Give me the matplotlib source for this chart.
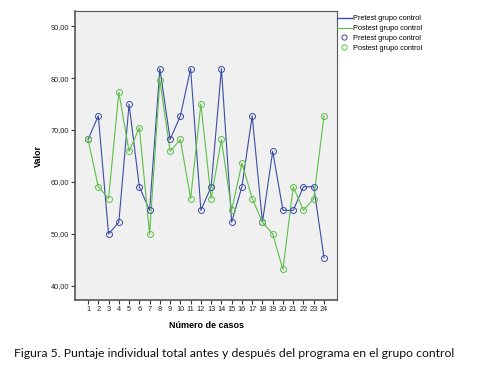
import matplotlib
matplotlib.use("Agg")
import matplotlib.pyplot as plt
from matplotlib.lines import Line2D
from matplotlib.ticker import FuncFormatter

# numero de casos y puntajes
casos = list(range(1, 25))
pretest = [68.18, 72.73, 50.00, 52.27, 75.00, 59.09, 54.55, 81.82, 68.18, 72.73, 81.82, 54.55,
           59.09, 81.82, 52.27, 59.09, 72.73, 52.27, 65.91, 54.55, 54.55, 59.09, 59.09, 45.45]
postest = [68.18, 59.09, 56.82, 77.27, 65.91, 70.45, 50.00, 79.55, 65.91, 68.18, 56.82, 75.00,
           56.82, 68.18, 54.55, 63.64, 56.82, 52.27, 50.00, 43.18, 59.09, 54.55, 56.82, 72.73]
y_ticks = [40, 50, 60, 70, 80, 90]
legend_labels = ["Pretest grupo control", "Postest grupo control",
                 "Pretest grupo control", "Postest grupo control"]
caption = "Figura 5. Puntaje individual total antes y después del programa en el grupo control"

blue = "#3b4da3"
green = "#5cbf48"

plt.rcParams['font.family'] = ['Liberation Sans', 'DejaVu Sans']

fig = plt.figure(figsize=(4.79, 3.73), dpi=100)
ax = fig.add_axes([0.1566, 0.1957, 0.547, 0.7748])
ax.set_facecolor("#f0f0f0")

ax.plot(casos, pretest, color=blue, lw=0.8)
ax.plot(casos, postest, color=green, lw=0.8)
ax.plot(casos, pretest, ls="none", marker="o", ms=4.3, mfc="none", mec=blue, mew=0.7)
ax.plot(casos, postest, ls="none", marker="o", ms=4.3, mfc="none", mec=green, mew=0.7)

ax.set_xlim(-0.27, 25.27)
ax.set_ylim(37.3, 92.9)
ax.set_xticks(casos)
ax.set_yticks(y_ticks)
ax.yaxis.set_major_formatter(FuncFormatter(lambda v, p: f"{v:.2f}".replace(".", ",")))
ax.tick_params(labelsize=5.3, length=3, width=0.8, color="#333333", pad=1, labelcolor="#222222")

for s in ax.spines.values():
    s.set_color("#555555")
    s.set_linewidth(0.8)
ax.spines["left"].set_linewidth(1.2)
ax.spines["bottom"].set_linewidth(1.2)

ax.set_ylabel("Valor", fontsize=6.5, fontweight="bold", labelpad=6)
ax.set_xlabel("Número de casos", fontsize=6.5, fontweight="bold", labelpad=6)

handles = [Line2D([], [], color=blue, lw=1.0),
           Line2D([], [], color=green, lw=0.8),
           Line2D([], [], ls="none", marker="o", ms=3.8, mfc="none", mec=blue, mew=0.7),
           Line2D([], [], ls="none", marker="o", ms=3.8, mfc="none", mec=green, mew=0.7)]
ax.legend(handles, legend_labels, loc="upper left", bbox_to_anchor=(1.0, 0.985),
          frameon=False, fontsize=5.3, handlelength=2.0, handletextpad=0.2,
          borderpad=0, borderaxespad=0, labelspacing=0.35)

fig.text(0.03, 0.044, caption, fontsize=8.85, family=["Lato", "DejaVu Sans"], color="#111111")

fig.savefig("out.png", dpi=100)
